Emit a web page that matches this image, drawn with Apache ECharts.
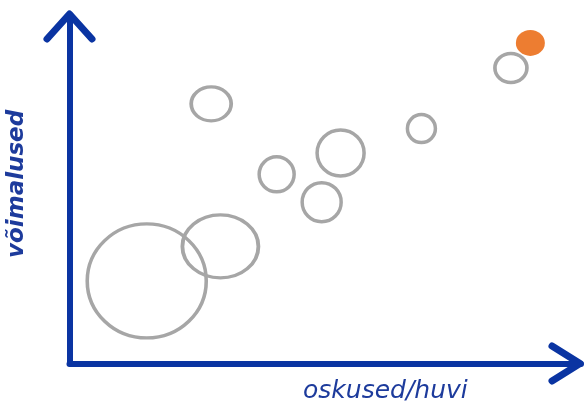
<!DOCTYPE html>
<html lang="et">
<head>
    <meta charset="UTF-8">
    <title>võimalused / oskused</title>
    <script src="https://cdn.jsdelivr.net/npm/echarts@6/dist/echarts.min.js"></script>
    <style>
        html, body { margin: 0; padding: 0; background: #fff; }
        #chart { width: 585px; height: 410px; }
    </style>
</head>
<body>
    <div id="chart"></div>
    <script>
        // andmed: oskused/huvi (x), võimalused (y), mulli laius ja kõrgus
        var xValues = [15.1, 29.5, 27.7, 40.5, 53.0, 49.3, 68.8, 86.3, 90.1];
        var yValues = [23.7, 33.6, 74.5, 54.3, 60.4, 46.3, 67.4, 84.8, 92.0];
        var widths  = [119, 76, 40, 35, 47, 39, 28, 32, 29];
        var heights = [114, 63, 34, 35, 46, 39, 28, 29, 26];
        var highlight = 8; // oranž mull

        var axisColor = '#0a34a2';
        var textColor = '#1d3b9c';

        var points = xValues.map(function (x, i) {
            return [x, yValues[i], widths[i], heights[i]];
        });

        var chart = echarts.init(document.getElementById('chart'));
        var option = {
            animation: false,
            grid: { left: 69.5, right: 4, top: 15, bottom: 46.5 },
            xAxis: {
                type: 'value', min: 0, max: 100,
                axisLine: { show: true, lineStyle: { color: axisColor, width: 6 } },
                axisTick: { show: false },
                axisLabel: { show: false },
                splitLine: { show: false }
            },
            yAxis: {
                type: 'value', min: 0, max: 100,
                axisLine: { show: true, lineStyle: { color: axisColor, width: 6 } },
                axisTick: { show: false },
                axisLabel: { show: false },
                splitLine: { show: false }
            },
            series: [{
                type: 'scatter',
                symbol: 'circle',
                data: points.map(function (p, i) {
                    return {
                        value: p,
                        itemStyle: i === highlight
                            ? { color: '#ed7d31', borderWidth: 0, opacity: 1 }
                            : { color: 'rgba(0,0,0,0)', borderColor: '#a6a6a6', borderWidth: 3.5, opacity: 1 }
                    };
                }),
                symbolSize: function (v) { return [v[2], v[3]]; }
            }],
            graphic: [
                // noolepead
                {
                    type: 'polyline',
                    shape: { points: [[47, 39], [69.5, 14], [92, 39]] },
                    style: { stroke: axisColor, lineWidth: 7, fill: null, lineCap: 'round', lineJoin: 'round' }
                },
                {
                    type: 'polyline',
                    shape: { points: [[552, 346], [580, 363.5], [552, 381]] },
                    style: { stroke: axisColor, lineWidth: 7, fill: null, lineCap: 'round', lineJoin: 'round' }
                },
                {
                    type: 'text',
                    left: 303, top: 379,
                    style: { text: 'oskused/huvi', fill: textColor, font: 'italic 25px "DejaVu Sans"' }
                },
                {
                    type: 'text',
                    x: 6, y: 258,
                    rotation: Math.PI / 2,
                    style: { text: 'võimalused', fill: textColor, font: 'italic bold 23px "DejaVu Sans"' }
                }
            ]
        };
        chart.setOption(option);
    </script>
</body>
</html>
